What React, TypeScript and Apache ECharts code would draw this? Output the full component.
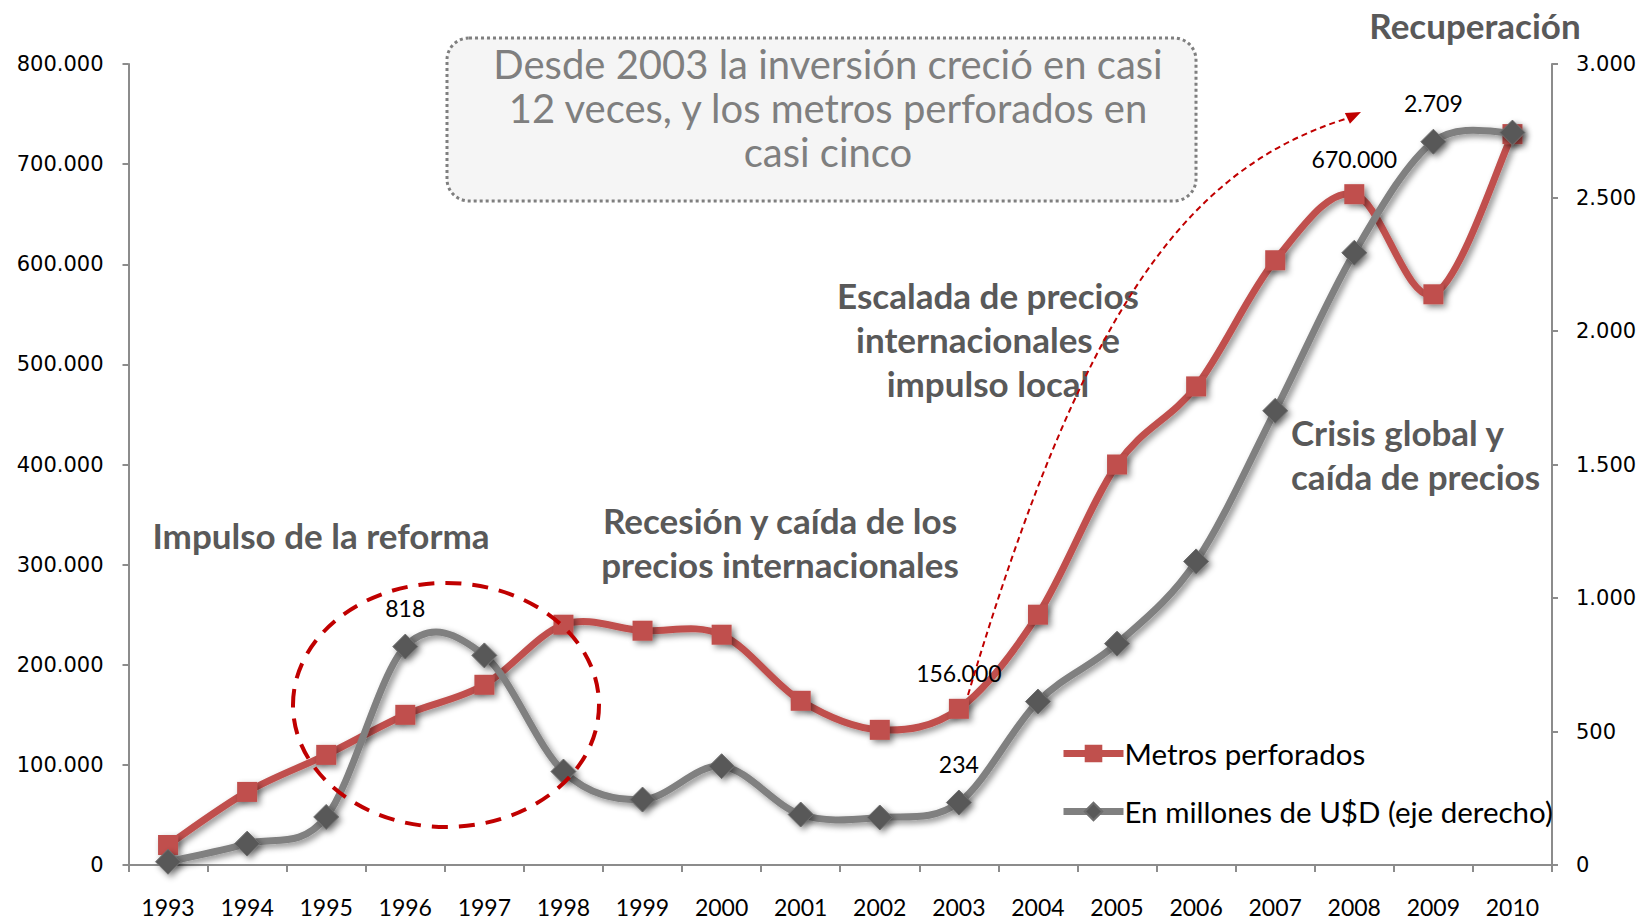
import React, { useEffect, useRef } from "react";
import * as echarts from "echarts";

const years = ["1993", "1994", "1995", "1996", "1997", "1998", "1999", "2000", "2001", "2002", "2003", "2004", "2005", "2006", "2007", "2008", "2009", "2010"];
const metrosPerforados = [20000, 73000, 110000, 150000, 180000, 240000, 234000, 230000, 164000, 135000, 156000, 250000, 400000, 478000, 604000, 670000, 570000, 730000];
const millonesUSD = [12, 80, 180, 818, 785, 350, 245, 370, 189, 178, 234, 612, 829, 1137, 1701, 2293, 2709, 2743];
const metrosLabelYears = ["2003", "2008"];
const usdLabelYears = ["1996", "2003", "2009"];
const leftAxisMax = 800000;
const leftAxisStep = 100000;
const rightAxisMax = 3000;
const rightAxisStep = 500;

const seriesNames = ["Metros perforados", "En millones de U$D (eje derecho)"];
const RED = "#c0504d";
const GREY = "#808080";
const DARK = "#595959";

const fmt = (n: number) => String(n).replace(/\B(?=(\d{3})+(?!\d))/g, ".");

const CAL = "Lato, 'Open Sans', sans-serif";
const VER = "'DejaVu Sans', Verdana, sans-serif";
const ANN = "#595959";

// Excel-like smoothed curve (Catmull-Rom) through the points given by the axes
function smoothPath(pts: number[][]) {
  let d = `M${pts[0][0]},${pts[0][1]}`;
  for (let i = 0; i < pts.length - 1; i++) {
    const p0 = pts[Math.max(i - 1, 0)];
    const p1 = pts[i];
    const p2 = pts[i + 1];
    const p3 = pts[Math.min(i + 2, pts.length - 1)];
    const c1x = p1[0] + (p2[0] - p0[0]) / 6;
    const c1y = p1[1] + (p2[1] - p0[1]) / 6;
    const c2x = p2[0] - (p3[0] - p1[0]) / 6;
    const c2y = p2[1] - (p3[1] - p1[1]) / 6;
    d += ` C${c1x},${c1y} ${c2x},${c2y} ${p2[0]},${p2[1]}`;
  }
  return d;
}

export default function App() {
  const ref = useRef<HTMLDivElement>(null);
  useEffect(() => {
    document.body.style.margin = "0";
    if (!ref.current) return;
    const chart = echarts.init(ref.current, null, { renderer: "svg" });

    const labelStyle = {
      show: true,
      position: "top",
      distance: 14,
      color: "#000",
      fontFamily: CAL,
      fontSize: 23,
      formatter: (p: any) => fmt(p.value),
    };

    const metrosData = metrosPerforados.map((v, i) =>
      metrosLabelYears.includes(years[i]) ? { value: v, label: labelStyle } : v
    );
    const usdData = millonesUSD.map((v, i) =>
      usdLabelYears.includes(years[i]) ? { value: v, label: labelStyle } : v
    );

    const axisLine = { show: true, lineStyle: { color: "#8c8c8c", width: 2 } };
    const axisTick = { show: true, length: 6, lineStyle: { color: "#8c8c8c", width: 2 } };
    const shadow = {
      shadowColor: "rgba(0,0,0,0.45)",
      shadowBlur: 6,
      shadowOffsetX: 3,
      shadowOffsetY: 3,
    };

    const curveSeries = (values: number[], yAxisIndex: number, color: string, z: number) => ({
      type: "custom",
      yAxisIndex,
      data: [0],
      silent: true,
      z,
      renderItem: (params: any, api: any) => {
        const pts = values.map((v, i) => api.coord([i, v]));
        return {
          type: "path",
          shape: { pathData: smoothPath(pts) },
          style: {
            fill: "none",
            stroke: color,
            lineWidth: 7,
            lineCap: "round",
            lineJoin: "round",
            ...shadow,
          },
        };
      },
    });

    // arrow geometry
    const tip = [1361, 112];
    const dir = [0.906, -0.423];
    const perp = [0.423, 0.906];
    const base = [tip[0] - 15 * dir[0], tip[1] - 15 * dir[1]];

    chart.setOption({
      animation: false,
      backgroundColor: "#ffffff",
      grid: { left: 128.5, right: 100, top: 64, bottom: 58, containLabel: false },
      legend: {
        orient: "vertical",
        left: 1055,
        top: 733,
        itemWidth: 60,
        itemHeight: 22,
        itemGap: 27,
        data: [
          { name: seriesNames[0], lineStyle: { color: RED, width: 7, opacity: 1 } },
          { name: seriesNames[1], lineStyle: { color: GREY, width: 7, opacity: 1 } },
        ],
        textStyle: { color: "#000", fontFamily: CAL, fontSize: 29.5, lineHeight: 31, padding: [0, 0, 0, -4] },
      },
      xAxis: {
        type: "category",
        data: years,
        boundaryGap: true,
        axisLine,
        axisTick: { ...axisTick, length: 7 },
        axisLabel: { color: "#000", fontFamily: CAL, fontSize: 23, margin: 30, interval: 0 },
        splitLine: { show: false },
      },
      yAxis: [
        {
          type: "value",
          min: 0,
          max: leftAxisMax,
          interval: leftAxisStep,
          position: "left",
          axisLine,
          axisTick,
          splitLine: { show: false },
          axisLabel: { color: "#000", fontFamily: VER, fontSize: 21, margin: 25, formatter: (v: number) => fmt(v) },
        },
        {
          type: "value",
          min: 0,
          max: rightAxisMax,
          interval: rightAxisStep,
          position: "right",
          axisLine,
          axisTick,
          splitLine: { show: false },
          axisLabel: { color: "#000", fontFamily: VER, fontSize: 21, margin: 24, formatter: (v: number) => fmt(v) },
        },
      ],
      series: [
        curveSeries(metrosPerforados, 0, RED, 2),
        {
          name: seriesNames[0],
          type: "line",
          yAxisIndex: 0,
          data: metrosData,
          symbol: "rect",
          symbolSize: 20,
          lineStyle: { color: RED, width: 7, opacity: 0 },
          itemStyle: { color: RED, ...shadow },
          z: 2,
        },
        curveSeries(millonesUSD, 1, GREY, 3),
        {
          name: seriesNames[1],
          type: "line",
          yAxisIndex: 1,
          data: usdData,
          symbol: "diamond",
          symbolSize: 25,
          lineStyle: { color: GREY, width: 7, opacity: 0 },
          itemStyle: { color: DARK, borderColor: "#6e6e6e", borderWidth: 1, ...shadow },
          z: 3,
        },
      ],
      graphic: [
        {
          type: "rect",
          z: 0,
          shape: { x: 447, y: 38, width: 749, height: 163, r: 22 },
          style: { fill: "#f5f5f5", stroke: "#7f7f7f", lineWidth: 3, lineDash: [3, 3] },
        },
        {
          type: "text",
          z: 1,
          x: 828,
          y: 108,
          style: {
            text: "Desde 2003 la inversión creció en casi\n12 veces, y los metros perforados en\ncasi cinco",
            fill: "#7f7f7f",
            font: `40px ${CAL}`,
            lineHeight: 44,
            align: "center",
            verticalAlign: "middle",
            textAlign: "center",
            textVerticalAlign: "middle",
          },
        },
        {
          type: "text",
          x: 321,
          y: 535,
          style: {
            text: "Impulso de la reforma",
            fill: ANN,
            font: `bold 35px ${CAL}`,
            align: "center",
            verticalAlign: "middle",
            textAlign: "center",
            textVerticalAlign: "middle",
          },
        },
        {
          type: "text",
          x: 780,
          y: 542,
          style: {
            text: "Recesión y caída de los\nprecios internacionales",
            fill: ANN,
            font: `bold 35px ${CAL}`,
            lineHeight: 44,
            align: "center",
            verticalAlign: "middle",
            textAlign: "center",
            textVerticalAlign: "middle",
          },
        },
        {
          type: "text",
          x: 988,
          y: 339,
          style: {
            text: "Escalada de precios\ninternacionales e\nimpulso local",
            fill: ANN,
            font: `bold 35px ${CAL}`,
            lineHeight: 44,
            align: "center",
            verticalAlign: "middle",
            textAlign: "center",
            textVerticalAlign: "middle",
          },
        },
        {
          type: "text",
          x: 1291,
          y: 454,
          style: {
            text: "Crisis global y\ncaída de precios",
            fill: ANN,
            font: `bold 35px ${CAL}`,
            lineHeight: 44,
            align: "left",
            verticalAlign: "middle",
            textAlign: "left",
            textVerticalAlign: "middle",
          },
        },
        {
          type: "text",
          x: 1475,
          y: 25,
          style: {
            text: "Recuperación",
            fill: ANN,
            font: `bold 35px ${CAL}`,
            align: "center",
            verticalAlign: "middle",
            textAlign: "center",
            textVerticalAlign: "middle",
          },
        },
        {
          type: "ellipse",
          z: 10,
          shape: { cx: 446, cy: 705, rx: 153, ry: 122 },
          style: { fill: "none", stroke: "#c00000", lineWidth: 4, lineDash: [16, 11] },
        },
        {
          type: "bezierCurve",
          z: 10,
          shape: { x1: 968, y1: 695, cpx1: 1080, cpy1: 320, cpx2: 1180, cpy2: 170, x2: base[0], y2: base[1] },
          style: { fill: "none", stroke: "#c00000", lineWidth: 2, lineDash: [6, 4] },
        },
        {
          type: "polygon",
          z: 10,
          shape: {
            points: [
              tip,
              [base[0] + 6 * perp[0], base[1] + 6 * perp[1]],
              [base[0] - 6 * perp[0], base[1] - 6 * perp[1]],
            ],
          },
          style: { fill: "#c00000" },
        },
      ],
    });
    return () => chart.dispose();
  }, []);
  return <div ref={ref} style={{ width: 1652, height: 923 }} />;
}
